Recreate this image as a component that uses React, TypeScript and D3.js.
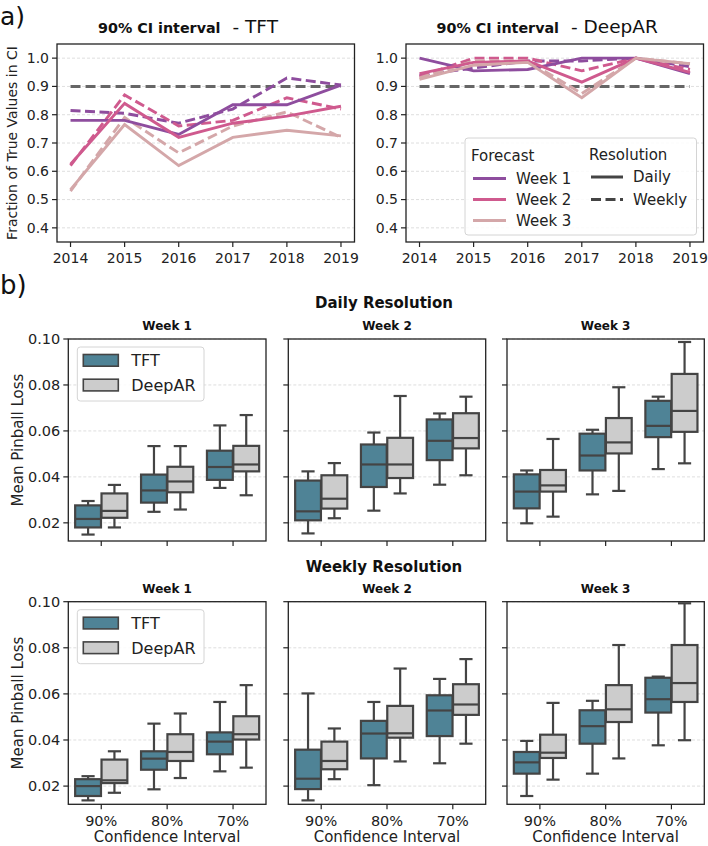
import React from "react";
import * as d3 from "d3";

// ---------- Data: panel a) ----------
const years = [2014, 2015, 2016, 2017, 2018, 2019];
const weekNames = ["Week 1", "Week 2", "Week 3"];
const weekColors = ["#8e4d9e", "#cf5a8e", "#d4a7a9"];

const tftDailyW1 = [0.78, 0.78, 0.73, 0.835, 0.835, 0.905];
const tftDailyW2 = [0.625, 0.84, 0.72, 0.77, 0.795, 0.83];
const tftDailyW3 = [0.535, 0.765, 0.62, 0.72, 0.745, 0.725];
const tftWeeklyW1 = [0.815, 0.805, 0.77, 0.82, 0.93, 0.905];
const tftWeeklyW2 = [0.62, 0.87, 0.76, 0.78, 0.86, 0.82];
const tftWeeklyW3 = [0.53, 0.79, 0.665, 0.76, 0.81, 0.72];

const darDailyW1 = [1.0, 0.955, 0.96, 1.0, 1.0, 0.945];
const darDailyW2 = [0.945, 0.985, 0.99, 0.915, 1.0, 0.95];
const darDailyW3 = [0.925, 0.975, 0.985, 0.86, 1.0, 0.98];
const darWeeklyW1 = [0.94, 0.965, 0.99, 0.99, 1.0, 0.97];
const darWeeklyW2 = [0.935, 1.0, 1.0, 0.955, 1.0, 0.96];
const darWeeklyW3 = [0.93, 0.99, 0.99, 0.875, 1.0, 0.98];

const ciTarget = 0.9;
const topYTicks = [0.4, 0.5, 0.6, 0.7, 0.8, 0.9, 1.0];

// ---------- Data: panel b) [lo, q1, median, q3, hi] ----------
const ciCategories = ["90%", "80%", "70%"];
const models = ["TFT", "DeepAR"];
const modelColors = ["#4f8396", "#cccccc"];
const lossTicks = [0.02, 0.04, 0.06, 0.08, 0.1];

const dailyW1TFT = [[0.0149, 0.018, 0.0217, 0.0276, 0.0295], [0.0248, 0.0288, 0.0341, 0.041, 0.0534], [0.0352, 0.0387, 0.0443, 0.0514, 0.0624]];
const dailyW1DAR = [[0.018, 0.0222, 0.0252, 0.0328, 0.0365], [0.0258, 0.0333, 0.038, 0.0444, 0.0534], [0.032, 0.0424, 0.0454, 0.0535, 0.0669]];
const dailyW2TFT = [[0.0154, 0.0211, 0.025, 0.0384, 0.0424], [0.0253, 0.0356, 0.0454, 0.0541, 0.0593], [0.0366, 0.0473, 0.0557, 0.065, 0.0676]];
const dailyW2DAR = [[0.022, 0.0262, 0.0305, 0.0407, 0.046], [0.0328, 0.0395, 0.0454, 0.057, 0.0752], [0.0407, 0.0524, 0.0569, 0.0677, 0.0749]];
const dailyW3TFT = [[0.0198, 0.0263, 0.0336, 0.0411, 0.0428], [0.0324, 0.0428, 0.0493, 0.0588, 0.0605], [0.0434, 0.0573, 0.0622, 0.0731, 0.0749]];
const dailyW3DAR = [[0.0227, 0.0336, 0.0363, 0.043, 0.0565], [0.0339, 0.0502, 0.055, 0.0656, 0.079], [0.0459, 0.0596, 0.0687, 0.0848, 0.0987]];

const weeklyW1TFT = [[0.0138, 0.0157, 0.02, 0.023, 0.0243], [0.0186, 0.0271, 0.0319, 0.0351, 0.0471], [0.0264, 0.0338, 0.0393, 0.0433, 0.0565]];
const weeklyW1DAR = [[0.0171, 0.0213, 0.0225, 0.0315, 0.0351], [0.0235, 0.0309, 0.0348, 0.0425, 0.0515], [0.028, 0.0402, 0.0425, 0.0503, 0.0638]];
const weeklyW2TFT = [[0.0138, 0.0187, 0.0232, 0.0358, 0.0602], [0.0204, 0.032, 0.0428, 0.0483, 0.0565], [0.0299, 0.0417, 0.0528, 0.0594, 0.0665]];
const weeklyW2DAR = [[0.023, 0.0273, 0.0309, 0.0393, 0.045], [0.0307, 0.041, 0.0429, 0.0548, 0.071], [0.0384, 0.0509, 0.0554, 0.0642, 0.0751]];
const weeklyW3TFT = [[0.0157, 0.0254, 0.0303, 0.0348, 0.0396], [0.0254, 0.0384, 0.046, 0.0529, 0.057], [0.0377, 0.0519, 0.0577, 0.067, 0.0675]];
const weeklyW3DAR = [[0.0228, 0.0322, 0.0345, 0.0423, 0.0561], [0.032, 0.0478, 0.0533, 0.0638, 0.0812], [0.0399, 0.0565, 0.0647, 0.0812, 0.0993]];

const FONT = "DejaVu Sans, Liberation Sans, sans-serif";
const EDGE = "#444444";

type LinePanelProps = {
  x0: number; x1: number; y0: number; y1: number;
  daily: number[][]; weekly: number[][];
  modelName: string; titleX: number; showLegend: boolean; showYLabel: boolean;
};

function LinePanel(p: LinePanelProps) {
  const x = d3.scaleLinear().domain([2013.75, 2019.25]).range([p.x0, p.x1]);
  const y = d3.scaleLinear().domain([0.35, 1.05]).range([p.y1, p.y0]);
  const line = d3.line<number>().x((_, i) => x(years[i])).y((v) => y(v));
  return (
    <g>
      {topYTicks.map((t) => (
        <line key={"g" + t} x1={p.x0} x2={p.x1} y1={y(t)} y2={y(t)} stroke="#d6d6d6" strokeWidth={0.8} strokeDasharray="3,2" />
      ))}
      <line x1={x(2014)} x2={x(2019)} y1={y(ciTarget)} y2={y(ciTarget)} stroke="#666" strokeWidth={3} strokeDasharray="10,5" />
      {p.weekly.map((s, i) => (
        <path key={"w" + i} d={line(s) || ""} fill="none" stroke={weekColors[i]} strokeWidth={2.9} strokeDasharray="10,4.5" />
      ))}
      {p.daily.map((s, i) => (
        <path key={"d" + i} d={line(s) || ""} fill="none" stroke={weekColors[i]} strokeWidth={2.9} />
      ))}
      <rect x={p.x0} y={p.y0} width={p.x1 - p.x0} height={p.y1 - p.y0} fill="none" stroke="#222" strokeWidth={1.3} />
      {topYTicks.map((t) => (
        <g key={"yt" + t}>
          <line x1={p.x0 - 5} x2={p.x0} y1={y(t)} y2={y(t)} stroke="#222" strokeWidth={1.2} />
          <text x={p.x0 - 8} y={y(t)} dy="0.35em" textAnchor="end" fontSize={14} fontFamily={FONT} fill="#222">{t.toFixed(1)}</text>
        </g>
      ))}
      {years.map((yr) => (
        <g key={"xt" + yr}>
          <line x1={x(yr)} x2={x(yr)} y1={p.y1} y2={p.y1 + 5} stroke="#222" strokeWidth={1.2} />
          <text x={x(yr)} y={p.y1 + 21} textAnchor="middle" fontSize={14} fontFamily={FONT} fill="#222">{yr}</text>
        </g>
      ))}
      <text x={p.titleX} y={33} textAnchor="start" fontFamily={FONT} fill="#111">
        <tspan fontSize={14.3} fontWeight="bold">90% CI interval</tspan>
        <tspan fontSize={18.5} dx={12}>{"- " + p.modelName}</tspan>
      </text>
      {p.showYLabel && (
        <text transform={`translate(17,${(p.y0 + p.y1) / 2}) rotate(-90)`} textAnchor="middle" fontSize={14} fontFamily={FONT} fill="#222">Fraction of True Values in CI</text>
      )}
      {p.showLegend && (
        <g>
          <rect x={465} y={138} width={231.5} height={97} rx={3} fill="white" fillOpacity={0.85} stroke="#d4d4d4" strokeWidth={1} />
          <text x={471} y={161} fontSize={15} fontFamily={FONT} fill="#222">Forecast</text>
          <text x={589} y={160} fontSize={15} fontFamily={FONT} fill="#222">Resolution</text>
          {weekNames.map((w, i) => (
            <g key={w}>
              <line x1={473} x2={506} y1={178.5 + i * 21} y2={178.5 + i * 21} stroke={weekColors[i]} strokeWidth={3} />
              <text x={516} y={178.5 + i * 21} dy="0.35em" fontSize={15} fontFamily={FONT} fill="#222">{w}</text>
            </g>
          ))}
          <line x1={591} x2={623} y1={177} y2={177} stroke="#444" strokeWidth={3} />
          <text x={633} y={177} dy="0.35em" fontSize={15} fontFamily={FONT} fill="#222">Daily</text>
          <line x1={591} x2={623} y1={199.5} y2={199.5} stroke="#444" strokeWidth={3} strokeDasharray="10,4.5" />
          <text x={633} y={199.5} dy="0.35em" fontSize={15} fontFamily={FONT} fill="#222">Weekly</text>
        </g>
      )}
    </g>
  );
}

type BoxPanelProps = {
  x0: number; x1: number; y0: number; y1: number;
  tft: number[][]; dar: number[][]; title: string;
  first: boolean; showXLabels: boolean;
};

function BoxPanel(p: BoxPanelProps) {
  const x = d3.scaleBand<string>().domain(ciCategories).range([p.x0, p.x1]).paddingInner(0).paddingOuter(0);
  const y = d3.scaleLinear().domain([0.0121, 0.1]).range([p.y1, p.y0]);
  const bw = x.bandwidth();
  const hue = d3.scaleBand<string>().domain(models).range([0.1 * bw, 0.9 * bw]);
  const groups = [p.tft, p.dar];
  return (
    <g>
      {lossTicks.map((t) => (
        <line key={"g" + t} x1={p.x0} x2={p.x1} y1={y(t)} y2={y(t)} stroke="#d6d6d6" strokeWidth={0.8} strokeDasharray="3,2" />
      ))}
      {ciCategories.map((c, ci) =>
        models.map((m, mi) => {
          const [lo, q1, md, q3, hi] = groups[mi][ci];
          const left = (x(c) as number) + (hue(m) as number);
          const w = hue.bandwidth();
          const boxL = left + w * 0.01;
          const boxW = w * 0.98;
          const mid = left + w / 2;
          const capW = w / 2;
          return (
            <g key={c + m}>
              <line x1={mid} x2={mid} y1={y(q3)} y2={y(hi)} stroke={EDGE} strokeWidth={2.2} />
              <line x1={mid} x2={mid} y1={y(q1)} y2={y(lo)} stroke={EDGE} strokeWidth={2.2} />
              <line x1={mid - capW / 2} x2={mid + capW / 2} y1={y(hi)} y2={y(hi)} stroke={EDGE} strokeWidth={2.2} />
              <line x1={mid - capW / 2} x2={mid + capW / 2} y1={y(lo)} y2={y(lo)} stroke={EDGE} strokeWidth={2.2} />
              <rect x={boxL} y={y(q3)} width={boxW} height={y(q1) - y(q3)} fill={modelColors[mi]} stroke={EDGE} strokeWidth={2.2} />
              <line x1={boxL} x2={boxL + boxW} y1={y(md)} y2={y(md)} stroke={EDGE} strokeWidth={2.2} />
            </g>
          );
        })
      )}
      <rect x={p.x0} y={p.y0} width={p.x1 - p.x0} height={p.y1 - p.y0} fill="none" stroke="#222" strokeWidth={1.3} />
      {lossTicks.map((t) => (
        <g key={"yt" + t}>
          <line x1={p.x0 - 5} x2={p.x0} y1={y(t)} y2={y(t)} stroke="#222" strokeWidth={1.2} />
          {p.first && (
            <text x={p.x0 - 8} y={y(t)} dy="0.35em" textAnchor="end" fontSize={14.5} fontFamily={FONT} fill="#222">{t.toFixed(2)}</text>
          )}
        </g>
      ))}
      {ciCategories.map((c) => (
        <g key={"xt" + c}>
          <line x1={(x(c) as number) + bw / 2} x2={(x(c) as number) + bw / 2} y1={p.y1} y2={p.y1 + 5} stroke="#222" strokeWidth={1.2} />
          {p.showXLabels && (
            <text x={(x(c) as number) + bw / 2} y={p.y1 + 22} textAnchor="middle" fontSize={14.5} fontFamily={FONT} fill="#222">{c}</text>
          )}
        </g>
      ))}
      {p.showXLabels && (
        <text x={(p.x0 + p.x1) / 2} y={p.y1 + 38} textAnchor="middle" fontSize={15} fontFamily={FONT} fill="#222">Confidence Interval</text>
      )}
      <text x={(p.x0 + p.x1) / 2} y={p.y0 - 9} textAnchor="middle" fontSize={12} fontWeight="bold" fontFamily={FONT} fill="#111">{p.title}</text>
      {p.first && (
        <g>
          <text transform={`translate(23,${(p.y0 + p.y1) / 2}) rotate(-90)`} textAnchor="middle" fontSize={15} fontFamily={FONT} fill="#222">Mean Pinball Loss</text>
          <rect x={p.x0 + 9} y={p.y0 + 8} width={126.7} height={54} rx={3} fill="white" fillOpacity={0.85} stroke="#d4d4d4" strokeWidth={1} />
          {models.map((m, i) => (
            <g key={m}>
              <rect x={p.x0 + 15} y={p.y0 + 15.5 + i * 24.7} width={35} height={11.7} fill={modelColors[i]} stroke={EDGE} strokeWidth={1.6} />
              <text x={p.x0 + 63} y={p.y0 + 21.5 + i * 24.7} dy="0.35em" fontSize={16} fontFamily={FONT} fill="#222">{m}</text>
            </g>
          ))}
        </g>
      )}
    </g>
  );
}

const boxCols = [
  [68.3, 266],
  [288.3, 485.7],
  [507, 704.3],
];

export default function App() {
  const dailyTFT = [dailyW1TFT, dailyW2TFT, dailyW3TFT];
  const dailyDAR = [dailyW1DAR, dailyW2DAR, dailyW3DAR];
  const weeklyTFT = [weeklyW1TFT, weeklyW2TFT, weeklyW3TFT];
  const weeklyDAR = [weeklyW1DAR, weeklyW2DAR, weeklyW3DAR];
  return (
    <svg width={708} height={846} style={{ position: "absolute", left: 0, top: 0, background: "white" }}>
      <rect width={708} height={846} fill="white" />
      <text x={0} y={25} fontSize={25} fontFamily={FONT} fill="#111">a)</text>
      <text x={0} y={294} fontSize={26} fontFamily={FONT} fill="#111">b)</text>
      <LinePanel x0={57} x1={354.5} y0={44} y1={242} daily={[tftDailyW1, tftDailyW2, tftDailyW3]} weekly={[tftWeeklyW1, tftWeeklyW2, tftWeeklyW3]} modelName="TFT" titleX={98} showLegend={false} showYLabel={true} />
      <LinePanel x0={406} x1={703.5} y0={44} y1={242} daily={[darDailyW1, darDailyW2, darDailyW3]} weekly={[darWeeklyW1, darWeeklyW2, darWeeklyW3]} modelName="DeepAR" titleX={436.5} showLegend={true} showYLabel={false} />
      <text x={384} y={308} textAnchor="middle" fontSize={15} fontWeight="bold" fontFamily={FONT} fill="#111">Daily Resolution</text>
      <text x={384} y={572} textAnchor="middle" fontSize={15} fontWeight="bold" fontFamily={FONT} fill="#111">Weekly Resolution</text>
      {boxCols.map(([a, b], i) => (
        <BoxPanel key={"d" + i} x0={a} x1={b} y0={339} y1={541} tft={dailyTFT[i]} dar={dailyDAR[i]} title={weekNames[i]} first={i === 0} showXLabels={false} />
      ))}
      {boxCols.map(([a, b], i) => (
        <BoxPanel key={"w" + i} x0={a} x1={b} y0={601.7} y1={804.3} tft={weeklyTFT[i]} dar={weeklyDAR[i]} title={weekNames[i]} first={i === 0} showXLabels={true} />
      ))}
    </svg>
  );
}
